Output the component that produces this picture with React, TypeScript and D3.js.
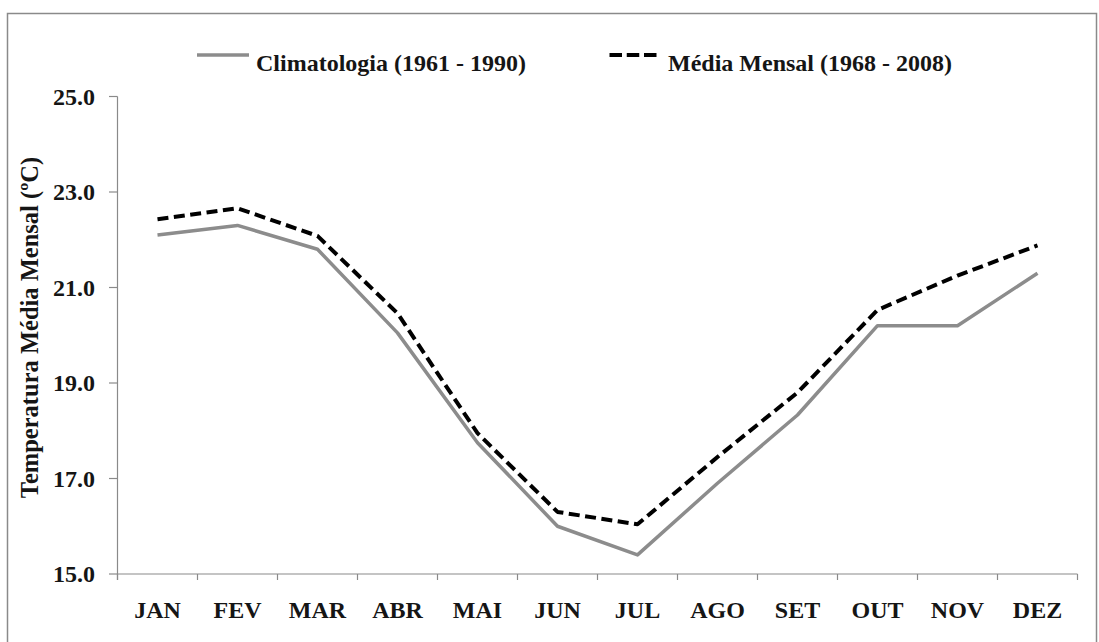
import React from "react";
import * as d3 from "d3";

const months = ["JAN", "FEV", "MAR", "ABR", "MAI", "JUN", "JUL", "AGO", "SET", "OUT", "NOV", "DEZ"];
const climatologia = [22.1, 22.3, 21.8, 20.05, 17.75, 16.0, 15.4, 16.9, 18.33, 20.2, 20.2, 21.3];
const mediaMensal = [22.43, 22.66, 22.08, 20.46, 17.95, 16.3, 16.04, 17.45, 18.8, 20.53, 21.25, 21.88];
const yTicks = [15, 17, 19, 21, 23, 25];
const seriesNames = ["Climatologia (1961 - 1990)", "Média Mensal (1968 - 2008)"];
const yTitle = "Temperatura Média Mensal (ºC)";

const W = 1099;
const H = 642;
const FONT = "Liberation Serif";
const AXIS = "#8a8a8a";
const TEXT = "#151515";

const txt: React.CSSProperties = { fontFamily: FONT, fontWeight: 700, fontSize: 24 };

export default function App() {
  const x = d3.scaleBand<string>().domain(months).range([117.5, 1077.5]).padding(0);
  const y = d3.scaleLinear().domain([15, 25]).range([574, 96.5]);
  const cx = (m: string) => (x(m) as number) + x.bandwidth() / 2;

  const line = d3
    .line<number>()
    .x((_, i) => cx(months[i]))
    .y((v) => y(v));

  const boundaries = months.map((m) => x(m) as number).concat([x.range()[1]]);

  return (
    <svg
      width={W}
      height={H}
      style={{ position: "absolute", left: 0, top: 0, display: "block", background: "#fff" }}
    >
      <rect x={0} y={0} width={W} height={H} fill="#fff" />
      {/* outer frame */}
      <rect x={7.5} y={13.5} width={1089} height={H} fill="none" stroke={AXIS} strokeWidth={1.5} />

      {/* legend */}
      <line x1={197} x2={249} y1={55} y2={55} stroke="#8c8c8c" strokeWidth={3.5} />
      <text x={256} y={71} style={txt} fill={TEXT}>
        {seriesNames[0]}
      </text>
      <line x1={609.5} x2={656.5} y1={55} y2={55} stroke="#000" strokeWidth={4} strokeDasharray="12.5,4.75" />
      <text x={668} y={71} style={txt} fill={TEXT}>
        {seriesNames[1]}
      </text>

      {/* y axis */}
      <line x1={117.5} x2={117.5} y1={y(25)} y2={580} stroke={AXIS} strokeWidth={1.2} />
      {yTicks.map((t) => (
        <g key={t}>
          <line x1={109} x2={117.5} y1={y(t)} y2={y(t)} stroke={AXIS} strokeWidth={1.2} />
          <text x={95} y={y(t)} dy="0.35em" textAnchor="end" style={txt} fill={TEXT}>
            {t.toFixed(1)}
          </text>
        </g>
      ))}
      <text
        transform={`translate(38, ${(153 + 502) / 2}) rotate(-90)`}
        textAnchor="middle"
        style={{ ...txt, fontSize: 24.5 }}
        fill={TEXT}
      >
        {yTitle}
      </text>

      {/* x axis */}
      <line x1={117.5} x2={x.range()[1]} y1={574} y2={574} stroke={AXIS} strokeWidth={1.2} />
      {boundaries.map((b, i) => (
        <line key={i} x1={b} x2={b} y1={574} y2={580} stroke={AXIS} strokeWidth={1.2} />
      ))}
      {months.map((m) => (
        <text key={m} x={cx(m)} y={618} textAnchor="middle" style={txt} fill={TEXT}>
          {m}
        </text>
      ))}

      {/* series */}
      <path d={line(climatologia) || ""} fill="none" stroke="#8c8c8c" strokeWidth={3.5} strokeLinejoin="round" />
      <path
        d={line(mediaMensal) || ""}
        fill="none"
        stroke="#000"
        strokeWidth={4}
        strokeDasharray="11,5.5"
        strokeLinejoin="round"
      />
    </svg>
  );
}
